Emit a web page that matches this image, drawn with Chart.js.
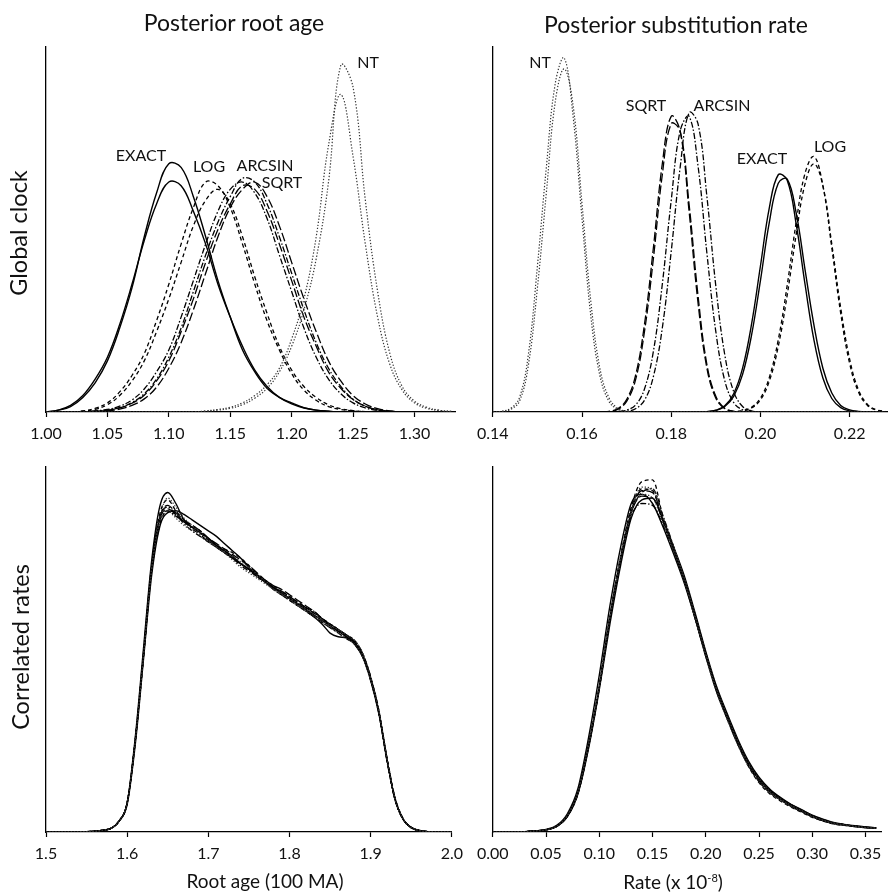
<!DOCTYPE html>
<html>
<head>
<meta charset="utf-8">
<script src="https://cdn.jsdelivr.net/npm/chart.js@4.4.1/dist/chart.umd.min.js"></script>
<style>
  body { margin: 0; background: #fff; }
  #page { position: relative; width: 888px; height: 892px; overflow: hidden; font-family: Lato, sans-serif; color: #111; }
  canvas { position: absolute; }
  .txt { position: absolute; transform: translate(-50%, -50%); white-space: nowrap; line-height: 1; }
  .title { font-size: 23px; }
  .ytitle { font-size: 23.5px; transform: translate(-50%, -50%) rotate(-90deg); }
  .xtitle { font-size: 19px; }
  .note { font-size: 16px; }
  sup { font-size: 11px; vertical-align: 0; position: relative; top: -7px; line-height: 0; }
</style>
</head>
<body>
<div id="page">
  <canvas id="tl" width="470" height="445" style="left:0;top:0;width:470px;height:445px"></canvas>
  <canvas id="tr" width="418" height="445" style="left:470px;top:0;width:418px;height:445px"></canvas>
  <canvas id="bl" width="470" height="447" style="left:0;top:445px;width:470px;height:447px"></canvas>
  <canvas id="br" width="418" height="447" style="left:470px;top:445px;width:418px;height:447px"></canvas>

  <div class="txt title" style="left:234px;top:21.5px">Posterior root age</div>
  <div class="txt title" style="left:676px;top:24px">Posterior substitution rate</div>
  <div class="txt ytitle" style="left:19px;top:233px">Global clock</div>
  <div class="txt ytitle" style="left:21px;top:647px">Correlated rates</div>
  <div class="txt xtitle" style="left:265px;top:880px">Root age (100 MA)</div>
  <div class="txt xtitle" style="left:673px;top:881px">Rate (x 10<sup>-8</sup>)</div>

  <div class="txt note" style="left:141px;top:155px">EXACT</div>
  <div class="txt note" style="left:209px;top:166px">LOG</div>
  <div class="txt note" style="left:265px;top:165px">ARCSIN</div>
  <div class="txt note" style="left:282px;top:182px">SQRT</div>
  <div class="txt note" style="left:368px;top:62px">NT</div>

  <div class="txt note" style="left:540px;top:62px">NT</div>
  <div class="txt note" style="left:646px;top:105px">SQRT</div>
  <div class="txt note" style="left:722px;top:105px">ARCSIN</div>
  <div class="txt note" style="left:762px;top:158px">EXACT</div>
  <div class="txt note" style="left:830px;top:146px">LOG</div>
</div>
<script>

// ---- Global clock, root age
const ageClockX = [1.00,1.01,1.02,1.03,1.04,1.05,1.06,1.07,1.08,1.09,1.10,1.11,1.12,1.13,1.14,1.15,1.16,1.17,
  1.18,1.19,1.20,1.21,1.22,1.23,1.24,1.25,1.26,1.27,1.28,1.29,1.30,1.31,1.32,1.33];
const ageClockTicks = [1.00, 1.05, 1.10, 1.15, 1.20, 1.25, 1.30];
const exactAgeA = [0,0.5,1.5,4,8,14,23,34,48,60,68,67,59,48,36,26,17,11,6.5,4,2.5,1.2,0.5,0.2,0,0,0,0,0,0,0,0,0,0];
const exactAgeB = [0,0.5,1.8,4.5,9,15,24,35,47,57,63,62,55,46,35,26,18,11.5,7,4,2.2,1.1,0.5,0.2,0,0,0,0,0,0,0,0,0,0];
const logAgeA = [0,0,0,0.3,1,2.5,5.5,10,16,25,35,46,56,63,62,56,46,35,25,17,10.5,6,3.2,1.5,0.7,0.3,0.1,0,0,0,0,0,0,0];
const logAgeB = [0,0,0,0.2,0.7,2,4.5,8.5,14,22,31,41,51,58,61,57,48,37,27,18,11.5,7,4,2,0.9,0.4,0.1,0,0,0,0,0,0,0];
const arcsinAgeA = [0,0,0,0,0.2,0.5,1.2,2.6,5,9,15,23,33,43,52,59,64,63,57,48,38,28,19,12,7,3.5,1.6,0.6,0.2,0,0,0,0,0];
const arcsinAgeB = [0,0,0,0,0.3,0.7,1.6,3.3,6.3,11,17,26,36,46,55,61,63,60,53,43,33,23,15,9,5,2.5,1.1,0.4,0.1,0,0,0,0,0];
const sqrtAgeA = [0,0,0,0,0.2,0.5,1.1,2.4,4.6,8.5,14,22,31,41,50,57,62,61,55,46,36,26,18,11,6.5,3.4,1.6,0.6,0.2,0,0,0,0,0];
const sqrtAgeB = [0,0,0,0,0.1,0.3,0.8,1.8,3.6,6.8,12,19,28,38,48,56,61,63,59,51,41,31,22,14,8.5,4.5,2.2,0.9,0.3,0,0,0,0,0];
const ntAgeA = [0,0,0,0,0,0,0,0,0,0,0,0,0,0.2,0.5,1,2,3.8,6.5,11,18,28,42,63,95,89,58,33,16,7,3,1.3,0.5,0.2];
const ntAgeB = [0,0,0,0,0,0,0,0,0,0,0,0,0,0.3,0.7,1.3,2.5,4.5,7.5,12,20,31,48,73,87,70,46,26,13,6,2.5,1,0.4,0.1];

// ---- Global clock, substitution rate
const rateClockX = [0.140,0.142,0.144,0.146,0.148,0.150,0.152,0.154,0.156,0.158,0.160,0.162,0.164,0.166,0.168,
  0.170,0.172,0.174,0.176,0.178,0.180,0.182,0.184,0.186,0.188,0.190,0.192,0.194,0.196,0.198,0.200,0.202,0.204,
  0.206,0.208,0.210,0.212,0.214,0.216,0.218,0.220,0.222,0.224,0.226,0.228];
const rateClockTicks = [0.14, 0.16, 0.18, 0.20, 0.22];
const ntRateA = [0,0.2,1,4,16,40,67,90,97,81,53,26,10,3,0.7,0.1,
  0,0,0,0,0,0,0,0,0,0,0,0,0,0,0,0,0,0,0,0,0,0,0,0,0,0,0,0,0];
const ntRateB = [0,0.1,0.7,3,13,34,60,85,94,84,57,30,12,4,1,0.2,
  0,0,0,0,0,0,0,0,0,0,0,0,0,0,0,0,0,0,0,0,0,0,0,0,0,0,0,0,0];
const sqrtRateA = [0,0,0,0,0,0,0,0,0,0,0,0,
  0,0.2,0.9,3.4,10,24,45,68,81,77,55,30,12,3.8,0.9,0.2,
  0,0,0,0,0,0,0,0,0,0,0,0,0,0,0,0,0];
const sqrtRateB = [0,0,0,0,0,0,0,0,0,0,0,0,
  0,0.1,0.7,2.9,8.8,22,42,65,79,77,57,32,13,4.3,1,0.2,
  0,0,0,0,0,0,0,0,0,0,0,0,0,0,0,0,0];
const arcsinRateA = [0,0,0,0,0,0,0,0,0,0,0,0,0,0,
  0,0.2,0.9,3.2,9.7,23,44,67,82,79,59,34.5,15.7,5.6,1.5,0.3,
  0,0,0,0,0,0,0,0,0,0,0,0,0,0,0];
const arcsinRateB = [0,0,0,0,0,0,0,0,0,0,0,0,0,0,
  0.1,0.5,1.9,6.3,16.6,35,58,77,81,67.5,43.5,22,8.6,2.6,0.6,0.1,
  0,0,0,0,0,0,0,0,0,0,0,0,0,0,0];
const exactRateA = [0,0,0,0,0,0,0,0,0,0,0,0,0,0,0,0,0,0,0,0,0,0,0,0,
  0.1,0.5,1.7,5,12,24,40,56,65,63.5,51.6,35,19.7,9.3,3.7,1.2,0.3,0.1,0,0,0];
const exactRateB = [0,0,0,0,0,0,0,0,0,0,0,0,0,0,0,0,0,0,0,0,0,0,0,0,
  0.1,0.4,1.5,4.3,10.3,21,36,52,62.7,63.8,54.6,39,23.8,12,5.2,1.8,0.6,0.15,0,0,0];
const logRateA = [0,0,0,0,0,0,0,0,0,0,0,0,0,0,0,0,0,0,0,0,0,0,0,0,0,0,0,
  0.1,0.4,1.3,3.8,9.5,19.8,34.7,51.8,65.4,70,62,45,27,13.3,5.4,1.8,0.5,0.1];
const logRateB = [0,0,0,0,0,0,0,0,0,0,0,0,0,0,0,0,0,0,0,0,0,0,0,0,0,0,0,
  0.1,0.3,1.1,3.3,8.5,18,32,48.5,62.5,68,62,46,28.5,14.5,6,2.1,0.6,0.15];

// ---- Correlated rates, root age
const ageCorrX = [1.50,1.51,1.52,1.53,1.54,1.55,1.56,1.57,1.58,1.59,1.60,1.61,1.62,1.63,1.64,1.65,1.66,1.67,1.68,
  1.69,1.70,1.71,1.72,1.73,1.74,1.75,1.76,1.77,1.78,1.79,1.80,1.81,1.82,1.83,1.84,1.85,1.86,1.87,1.88,1.89,1.90,
  1.91,1.92,1.93,1.94,1.95,1.96,1.97,1.98,1.99,2.00];
const ageCorrTicks = [1.5, 1.6, 1.7, 1.8, 1.9, 2.0];
const exactCorrA = [0,0,0,0,0,0.1,0.2,0.5,1,3, 8,26,50,74,89,93,90,85.5,83.5,82, 80.5,78.5,77,75.5,73.5,72,70.5,68.5,67,65.5,
  64,62.5,61,59,57,54.5,53.5,53.2,52,48.5, 42,33,20,9,3.5,1.2,0.4,0.1,0,0, 0];
const exactCorrB = [0,0,0,0,0,0.1,0.2,0.5,1,3, 7.5,24,47,70,83.5,87.5,88,87,85.5,84, 82.5,81,79,77,75,72.5,70.5,68.5,67,65.5,
  64,62.5,61,59.5,58,56.5,55,53.5,51.5,48, 41.5,32.5,20,9,3.5,1.2,0.4,0.1,0,0, 0];
const logCorrA = [0,0,0,0,0,0.1,0.2,0.5,1,3, 8,25,48,71,84,88,87,85,83.5,82, 80,78.5,77.5,76.5,75,73,70.5,68.5,66.5,65,
  63.5,62,60.5,59,57.5,56,55,54,52.5,49, 42.5,33.5,20.5,9.5,3.7,1.3,0.4,0.1,0,0, 0];
const logCorrB = [0,0,0,0,0,0.1,0.2,0.5,1,3, 8,25.5,49,73,87,91,88,85.5,84,82.5, 80.5,78.5,76.5,75,73.5,72,70,68.5,67,66,
  64.5,63,61.5,60,58.5,57,55.5,54,52,48.5, 42,33,20,9,3.5,1.2,0.4,0.1,0,0, 0];
const arcsinCorrA = [0,0,0,0,0,0.1,0.2,0.5,1,3, 8,25,48,72,85,88,86.5,85,83,81.5, 79.5,78,76.5,75,73.5,72,70,68.5,67,65.5,
  64,62.5,61.5,60.5,58.5,57,55.5,54,52.5,49, 42.5,33,20,9,3.5,1.2,0.4,0.1,0,0, 0];
const arcsinCorrB = [0,0,0,0,0,0.1,0.2,0.5,1,3, 8,25,48,72,86,89,87,84.5,82.5,81, 79.5,78.5,77,75,73,71.5,70,68.5,66.5,65,
  63.5,62,60.5,59,57.5,56,54.5,53,51.5,48, 41.5,32.5,19.5,8.8,3.4,1.2,0.4,0.1,0,0, 0];
const sqrtCorrA = [0,0,0,0,0,0.1,0.2,0.5,1,3, 8,25,48,72,86,89.5,87.5,85.5,84,82.5, 80.5,79,77.5,76,74.5,73,71,69,67.5,66,
  64.5,63,61.5,60,58.5,57,55.5,54,52,48.5, 42,33,20,9,3.5,1.2,0.4,0.1,0,0, 0];
const sqrtCorrB = [0,0,0,0,0,0.1,0.2,0.5,1,3, 8,25,48,72,85.5,88.5,87,85,83.5,82, 80,78,76.5,75,73.5,72,70.5,69,67.5,66.5,
  65,63.5,62,60.5,58.5,56.5,55,53.5,52,48.5, 42,33,20,9,3.5,1.2,0.4,0.1,0,0, 0];
const ntCorrA = [0,0,0,0,0,0.1,0.2,0.5,1,3, 8,25,48,71.5,85,88,86,84,82.5,81, 79.5,78,76.5,74.5,72.5,71,69.5,68,66.5,65,
  63.5,62,60.5,59,57.5,56,54.5,53,51.5,48, 41.5,33,20,9,3.5,1.2,0.4,0.1,0,0, 0];
const ntCorrB = [0,0,0,0,0,0.1,0.2,0.5,1,3, 8,25,48,72,86,91.5,89,86,84,82, 80,78,76.5,75.5,74,72.5,70.5,68.5,66.5,65.5,
  64,62.5,61,59.5,58,56.5,55.5,54,52.5,49, 42.5,33.5,20.5,9.2,3.6,1.2,0.4,0.1,0,0, 0];

// ---- Correlated rates, substitution rate
const rateCorrX = [0.00,0.01,0.02,0.03,0.04,0.05,0.06,0.07,0.08,0.09,0.10,0.11,0.12,0.13,0.14,0.15,0.16,0.17,0.18,
  0.19,0.20,0.21,0.22,0.23,0.24,0.25,0.26,0.27,0.28,0.29,0.30,0.31,0.32,0.33,0.34,0.35,0.36];
const rateCorrTicks = [0.00, 0.05, 0.10, 0.15, 0.20, 0.25, 0.30, 0.35];
const exactRcA = [0,0,0,0.1,0.3,0.7,1.8,5,12,26, 43,62,78,90,92.5,90,83.5,76,68,58.5,
  48.5,39.5,32,25,19,14.5,11.5,9.3,7.5,6, 4.5,3.4,2.5,2,1.6,1.3,1.1];
const exactRcB = [0,0,0,0.1,0.3,0.6,1.5,4.2,10.5,23, 39,57,73,86,91,91.5,85.5,78,70,60,
  49.5,40,32.5,25.5,19.5,15,11.8,9.5,7.6,6.1, 4.6,3.5,2.6,2.1,1.7,1.4,1.2];
const logRcA = [0,0,0,0.1,0.3,0.6,1.5,4.3,10.5,23.5, 39.5,58.5,75,89,96,96.5,86,77,68.5,58.5,
  48,38.5,31,24,18,13.5,10.5,8.5,6.8,5.4, 4,3,2.2,1.8,1.5,1.2,1];
const logRcB = [0,0,0,0.1,0.3,0.6,1.6,4.5,11,24, 40,59,75.5,88.5,94,93.5,85,77,68.5,58.5,
  48,38.5,31,24,18.2,13.8,10.8,8.8,7,5.6, 4.2,3.1,2.3,1.9,1.5,1.2,1];
const arcsinRcA = [0,0,0,0.1,0.3,0.6,1.6,4.4,10.8,23.5, 39.5,58.5,74.5,87.5,93,94,86.5,78,69,59,
  48.5,39,31.5,24.5,18.5,14,11,9,7.2,5.8, 4.3,3.2,2.4,2,1.6,1.3,1.1];
const arcsinRcB = [0,0,0,0.1,0.3,0.6,1.6,4.5,11,24, 40,59,74.5,86.5,90,89.5,84,77,69,59.5,
  49,39.5,32,25,19,14.5,11.3,9.2,7.3,5.8, 4.3,3.2,2.4,2,1.6,1.3,1.1];
const sqrtRcA = [0,0,0,0.1,0.3,0.6,1.6,4.5,11,24, 40,59,75,88,93.5,93,85.5,77.5,69,59,
  48.5,39,31.5,24.5,18.5,14,11,9,7.2,5.8, 4.2,3.2,2.4,2,1.6,1.3,1.1];
const sqrtRcB = [0,0,0,0.1,0.3,0.6,1.5,4.3,10.7,23.5, 39.5,58.5,74.5,87.5,92,91.5,85,77.5,69.5,59.5,
  49,39.5,32,25,19,14.3,11.2,9,7.2,5.7, 4.2,3.1,2.3,1.9,1.5,1.2,1];
const ntRcA = [0,0,0,0.1,0.3,0.6,1.6,4.4,10.8,23.5, 39.5,58.5,74.5,88,94.5,94,86,78,69.5,59.5,
  49,39.5,32,25,19,14.5,11.2,9.1,7.3,5.9, 4.4,3.3,2.5,2,1.6,1.3,1.1];
const ntRcB = [0,0,0,0.1,0.3,0.6,1.6,4.6,11.2,24.5, 40.5,59.5,75.5,88,92.5,91.5,84.5,77,68.5,58.5,
  48,38.5,31,24,18,13.8,10.8,8.8,7,5.6, 4.1,3.1,2.3,1.9,1.5,1.2,1];

// line look per method
const lineStyles = {
  EXACT:  { dash: [], width: 1.4, color: '#000' },
  LOG:    { dash: [4, 3], width: 1.3, color: '#000' },
  ARCSIN: { dash: [6, 2, 1.5, 2], width: 1.3, color: '#000' },
  SQRT:   { dash: [9, 3], width: 1.3, color: '#000' },
  NT:     { dash: [1.3, 1.8], width: 1.2, color: '#333' }
};

Chart.defaults.font.family = 'Lato, sans-serif';
Chart.defaults.color = '#111';

function makeDataset(xs, ys, method, smooth) {
  const st = lineStyles[method];
  return {
    label: method,
    data: xs.map((x, i) => ({ x: x, y: ys[i] })),
    borderColor: st.color,
    borderWidth: st.width,
    borderDash: st.dash,
    pointRadius: 0,
    fill: false,
    tension: smooth === 'monotone' ? 0 : 0.4,
    cubicInterpolationMode: smooth === 'monotone' ? 'monotone' : 'default'
  };
}

function drawPanel(id, xs, series, xMin, xMax, tickVals, decimals, pad, smooth) {
  const ctx = document.getElementById(id).getContext('2d');
  return new Chart(ctx, {
    type: 'line',
    data: { datasets: series.map(s => makeDataset(xs, s[1], s[0], smooth)) },
    options: {
      responsive: false,
      maintainAspectRatio: false,
      animation: false,
      events: [],
      layout: { padding: pad },
      plugins: { legend: { display: false }, tooltip: { enabled: false } },
      scales: {
        x: {
          type: 'linear',
          min: xMin,
          max: xMax,
          afterBuildTicks: s => { s.ticks = tickVals.map(v => ({ value: v })); },
          afterFit: s => { s.height = 33; },
          ticks: {
            callback: v => Number(v).toFixed(decimals),
            font: { size: 16 },
            color: '#111',
            padding: 7,
            maxRotation: 0,
            autoSkip: false
          },
          grid: { display: true, drawOnChartArea: false, drawTicks: true, tickLength: 5, tickWidth: 1.2, tickColor: '#000' },
          border: { display: true, color: '#000', width: 1.3 }
        },
        y: {
          min: 0,
          max: 100,
          afterFit: s => { s.width = 0; },
          ticks: { display: false },
          grid: { display: false },
          border: { display: true, color: '#000', width: 1.3 }
        }
      }
    }
  });
}

drawPanel('tl', ageClockX, [
  ['NT', ntAgeA], ['NT', ntAgeB],
  ['SQRT', sqrtAgeA], ['SQRT', sqrtAgeB],
  ['ARCSIN', arcsinAgeA], ['ARCSIN', arcsinAgeB],
  ['LOG', logAgeA], ['LOG', logAgeB],
  ['EXACT', exactAgeA], ['EXACT', exactAgeB]
], 1.0, 1.333, ageClockTicks, 2, { left: 46, top: 47, right: 15, bottom: 0 });

drawPanel('tr', rateClockX, [
  ['NT', ntRateA], ['NT', ntRateB],
  ['SQRT', sqrtRateA], ['SQRT', sqrtRateB],
  ['ARCSIN', arcsinRateA], ['ARCSIN', arcsinRateB],
  ['LOG', logRateA], ['LOG', logRateB],
  ['EXACT', exactRateA], ['EXACT', exactRateB]
], 0.14, 0.2286, rateClockTicks, 2, { left: 15, top: 47, right: 0, bottom: 0 });

drawPanel('bl', ageCorrX, [
  ['NT', ntCorrA], ['NT', ntCorrB],
  ['SQRT', sqrtCorrA], ['SQRT', sqrtCorrB],
  ['ARCSIN', arcsinCorrA], ['ARCSIN', arcsinCorrB],
  ['LOG', logCorrA], ['LOG', logCorrB],
  ['EXACT', exactCorrA], ['EXACT', exactCorrB]
], 1.5, 2.0, ageCorrTicks, 1, { left: 46, top: 22, right: 16, bottom: 27 }, 'monotone');

drawPanel('br', rateCorrX, [
  ['NT', ntRcA], ['NT', ntRcB],
  ['SQRT', sqrtRcA], ['SQRT', sqrtRcB],
  ['ARCSIN', arcsinRcA], ['ARCSIN', arcsinRcB],
  ['LOG', logRcA], ['LOG', logRcB],
  ['EXACT', exactRcA], ['EXACT', exactRcB]
], 0, 0.3646, rateCorrTicks, 2, { left: 15, top: 22, right: 0, bottom: 27 }, 'monotone');
</script>
</body>
</html>
